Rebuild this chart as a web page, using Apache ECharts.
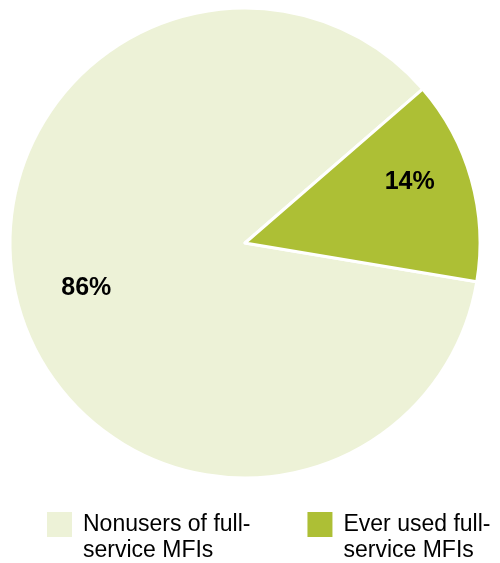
<!DOCTYPE html>
<html>
<head>
<meta charset="utf-8">
<script src="https://cdn.jsdelivr.net/npm/echarts@6/dist/echarts.min.js"></script>
<style>
  html, body { margin: 0; padding: 0; background: #fff; }
  #chart { width: 500px; height: 563px; }
</style>
</head>
<body>
<div id="chart"></div>
<script>
// Share of respondents by use of full-service MFIs (percent)
const categories = ['Nonusers of full-service MFIs', 'Ever used full-service MFIs'];
const legendLabels = ['Nonusers of full-\nservice MFIs', 'Ever used full-\nservice MFIs'];
const shares = [86, 14];
const colors = ['#EDF2D7', '#ADBF35'];
// small nudges so each percentage sits where it reads best inside its slice
const labelNudges = [[3, 0], [3, -15]];

const font = '"Liberation Sans", Arial, sans-serif';
const center = [245, 243];
const outer = 235;
const startAngle = -9.5;

// legend swatch: a square on the top half of a taller box, so it lines up
// with the first line of the two-line legend text
const swatch = 'path://M0,0H27V27H0Z M0,52.99H0.01V53H0Z';

const sliceData = categories.map((name, i) => ({
  name,
  value: shares[i],
  itemStyle: { color: colors[i] }
}));

const chart = echarts.init(document.getElementById('chart'), null, { renderer: 'canvas' });
chart.setOption({
  animation: false,
  backgroundColor: '#ffffff',
  legend: {
    left: 45,
    top: 510,
    padding: 0,
    orient: 'horizontal',
    icon: swatch,
    itemWidth: 27,
    itemHeight: 53,
    itemGap: 55,
    selectedMode: false,
    data: categories,
    formatter: name => legendLabels[categories.indexOf(name)],
    textStyle: {
      fontFamily: font,
      fontSize: 23,
      lineHeight: 26,
      color: '#000',
      padding: [0, 0, 0, 5]
    }
  },
  series: [
    {
      type: 'pie',
      center,
      radius: [0, outer],
      startAngle,
      clockwise: true,
      silent: true,
      label: { show: false },
      labelLine: { show: false },
      itemStyle: { borderColor: '#ffffff', borderWidth: 3 },
      data: sliceData
    },
    {
      // transparent ring used only to place the percentage labels
      type: 'pie',
      center,
      radius: [95, outer],
      startAngle,
      clockwise: true,
      silent: true,
      legendHoverLink: false,
      itemStyle: { color: 'rgba(0,0,0,0)', borderWidth: 0 },
      label: {
        show: true,
        position: 'inside',
        formatter: p => p.value + '%',
        fontFamily: font,
        fontWeight: 'bold',
        fontSize: 25,
        color: '#000'
      },
      labelLine: { show: false },
      data: categories.map((name, i) => ({
        name: name + ' ',
        value: shares[i],
        label: { offset: labelNudges[i] }
      }))
    }
  ]
});
</script>
</body>
</html>
